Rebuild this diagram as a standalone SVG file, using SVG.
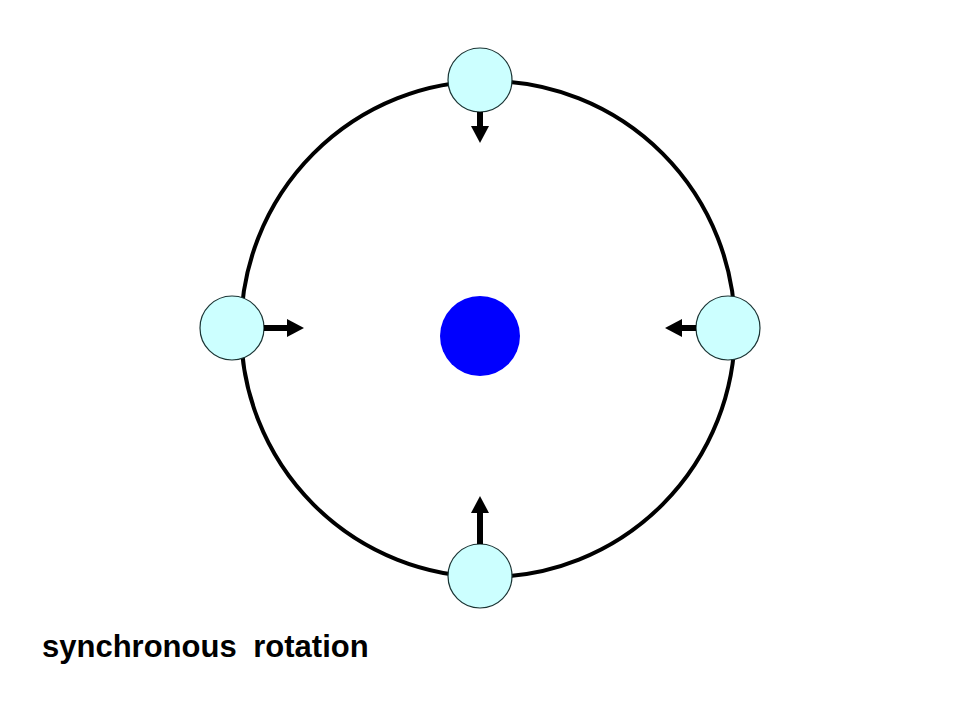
<svg xmlns="http://www.w3.org/2000/svg" width="960" height="720" viewBox="0 0 960 720">
<defs>
<style>
.orbit{fill:none;stroke:#000;stroke-width:4}
.moon{fill:#CCFFFF;stroke:#1a3333;stroke-width:1.2}
.planet{fill:#0000FF}
.arr{stroke:#000;stroke-width:6;stroke-linecap:butt;fill:none}
.label{font-family:"Liberation Sans",Arial,sans-serif;font-weight:bold;font-size:31px;fill:#000}
</style>
<marker id="head" viewBox="0 0 17 18" refX="0" refY="9" markerWidth="17" markerHeight="18" markerUnits="userSpaceOnUse" orient="auto">
<path d="M0,0 L17,9 L0,18 Z" fill="#000"/>
</marker>
</defs>
<rect width="960" height="720" fill="#fff"/>
<g id="orbit"><ellipse class="orbit" cx="488" cy="329" rx="247" ry="248"/></g>
<g id="planet"><circle class="planet" cx="480" cy="336" r="40"/></g>
<g id="moon-top"><circle class="moon" cx="480" cy="80" r="32"/></g>
<g id="moon-left"><circle class="moon" cx="232" cy="328" r="32"/></g>
<g id="moon-right"><circle class="moon" cx="728" cy="328" r="32"/></g>
<g id="moon-bottom"><circle class="moon" cx="480" cy="576" r="32"/></g>
<g id="connectors">
<line class="arr" x1="480" y1="112" x2="480" y2="126" marker-end="url(#head)"/>
<line class="arr" x1="264" y1="328" x2="287" y2="328" marker-end="url(#head)"/>
<line class="arr" x1="696" y1="328" x2="682" y2="328" marker-end="url(#head)"/>
<line class="arr" x1="480" y1="544" x2="480" y2="513" marker-end="url(#head)"/>
</g>
<text class="label" x="42" y="657" word-spacing="8">synchronous rotation</text>
</svg>
